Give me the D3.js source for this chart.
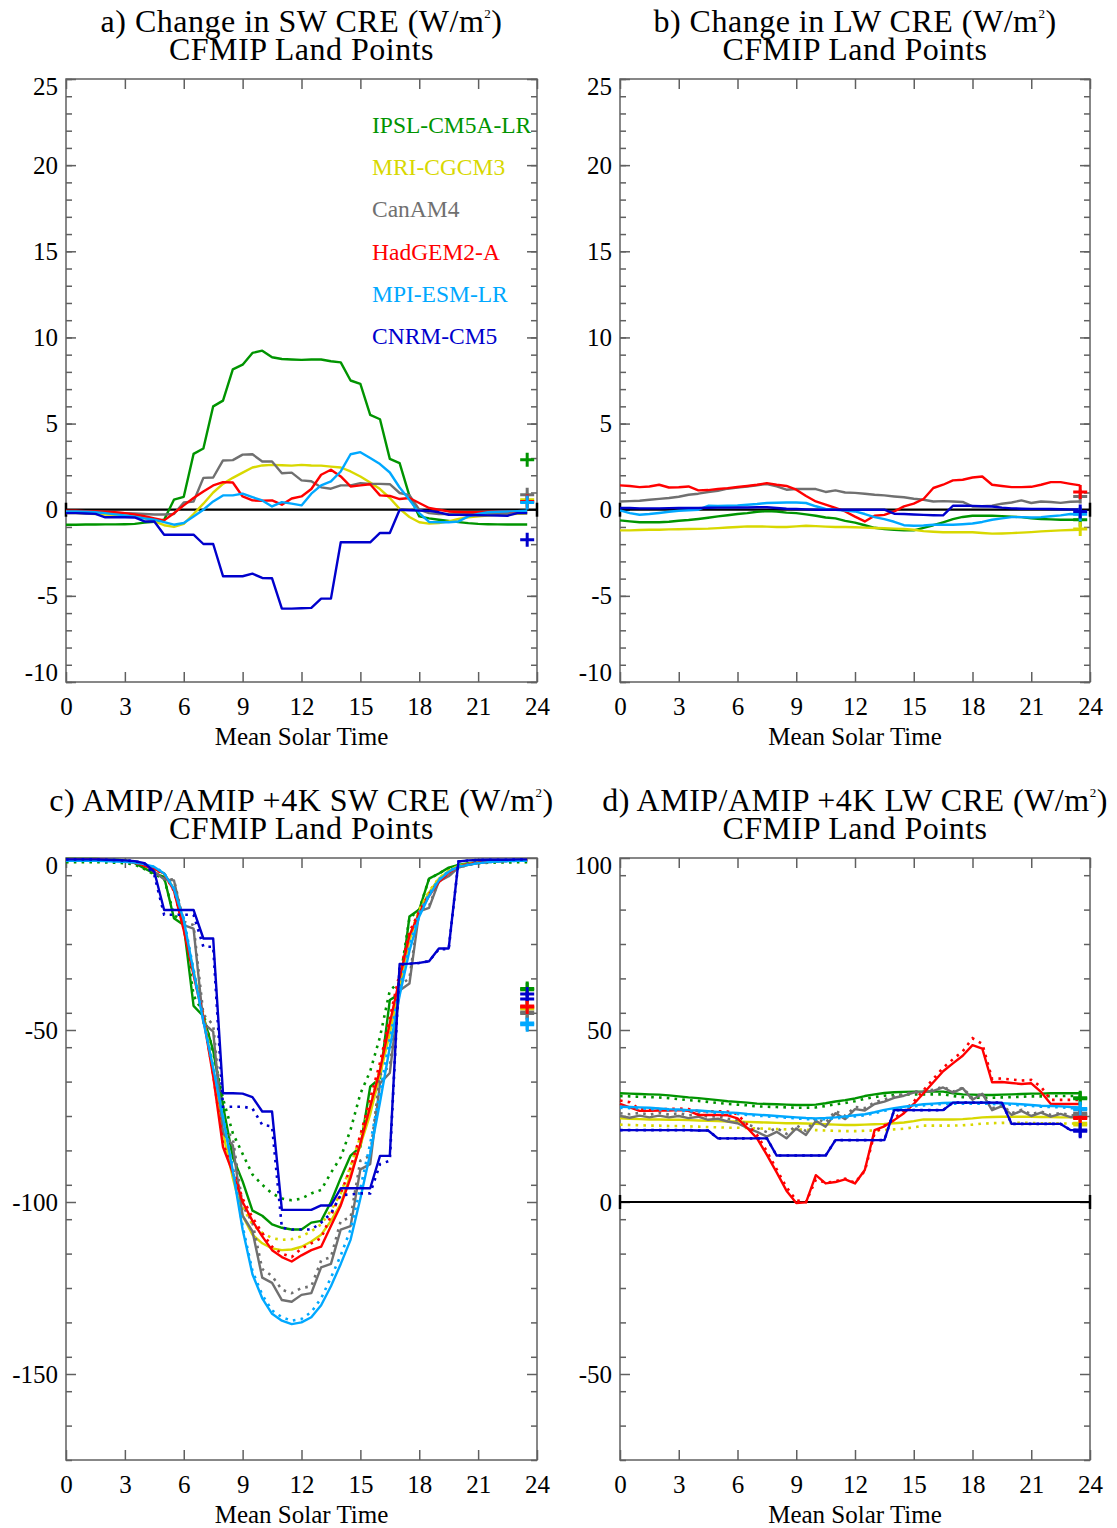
<!DOCTYPE html>
<html>
<head>
<meta charset="utf-8">
<script src="https://cdn.jsdelivr.net/npm/d3@7"></script>
<style>
  body { margin: 0; background: #fff; }
  text { font-family: "Liberation Serif", "Times New Roman", serif; }
</style>
</head>
<body>
<svg id="chart" width="1117" height="1528"></svg>
<script>
// ---- data ----
const hours = [0,0.5,1,1.5,2,2.5,3,3.5,4,4.5,5,5.5,6,6.5,7,7.5,8,8.5,9,9.5,10,10.5,11,11.5,
               12,12.5,13,13.5,14,14.5,15,15.5,16,16.5,17,17.5,18,18.5,19,19.5,20,20.5,21,21.5,22,22.5,23,23.5];
const models = ["IPSL-CM5A-LR", "MRI-CGCM3", "CanAM4", "HadGEM2-A", "MPI-ESM-LR", "CNRM-CM5"];
const xTicks = [0, 3, 6, 9, 12, 15, 18, 21, 24];

// a) change in SW CRE
const swIPSL = [-0.87,-0.87,-0.86,-0.86,-0.85,-0.85,-0.84,-0.82,-0.75,-0.7,-0.58,0.58,0.75,3.24,3.55,6.0,6.33,8.15,8.42,9.1,9.23,8.85,8.75,8.72,
                8.7,8.72,8.72,8.62,8.55,7.5,7.3,5.5,5.25,2.95,2.7,0.8,-0.39,-0.5,-0.58,-0.65,-0.72,-0.78,-0.82,-0.84,-0.85,-0.86,-0.86,-0.86];
const swMRI = [-0.2,-0.2,-0.22,-0.25,-0.28,-0.3,-0.33,-0.38,-0.5,-0.68,-0.9,-1.0,-0.82,-0.25,0.35,1.0,1.5,1.85,2.15,2.45,2.57,2.6,2.58,2.56,
               2.6,2.57,2.56,2.5,2.45,2.22,1.93,1.58,1.2,0.68,0.05,-0.42,-0.73,-0.81,-0.78,-0.68,-0.54,-0.44,-0.38,-0.34,-0.3,-0.27,-0.24,-0.22];
const swCanAM4 = [-0.1,-0.1,-0.12,-0.13,-0.15,-0.17,-0.2,-0.22,-0.25,-0.28,-0.28,-0.25,0.42,0.48,1.85,1.87,2.86,2.88,3.2,3.22,2.8,2.8,2.12,2.15,
                  1.7,1.65,1.3,1.22,1.41,1.41,1.54,1.5,1.5,1.48,0.97,0.85,0.0,-0.2,-0.25,-0.25,-0.25,-0.24,-0.23,-0.22,-0.22,-0.21,-0.2,-0.2];
const swHadGEM2 = [-0.05,-0.05,-0.08,-0.1,-0.12,-0.15,-0.2,-0.28,-0.38,-0.5,-0.62,-0.2,0.25,0.68,1.06,1.41,1.6,1.58,0.77,0.54,0.52,0.54,0.29,0.65,
                   0.77,1.2,2.03,2.32,1.93,1.35,1.41,1.48,0.83,0.8,0.62,0.68,0.39,0.1,0.0,-0.1,-0.13,-0.15,-0.15,-0.12,-0.1,-0.1,-0.1,-0.1];
const swMPI = [-0.1,-0.1,-0.12,-0.15,-0.2,-0.27,-0.33,-0.4,-0.5,-0.58,-0.72,-0.87,-0.77,-0.39,0.0,0.48,0.83,0.83,0.93,0.73,0.54,0.19,0.44,0.35,
               0.25,0.93,1.41,1.64,2.22,3.22,3.34,3.0,2.65,2.16,1.29,0.58,-0.2,-0.71,-0.73,-0.73,-0.68,-0.39,-0.25,-0.15,-0.12,-0.1,-0.08,-0.06];
const swCNRM = [-0.2,-0.2,-0.22,-0.24,-0.44,-0.44,-0.44,-0.45,-0.68,-0.68,-1.45,-1.45,-1.45,-1.45,-1.99,-1.99,-3.86,-3.86,-3.86,-3.71,-3.96,-3.98,-5.74,-5.74,
                -5.72,-5.7,-5.16,-5.16,-1.89,-1.89,-1.89,-1.89,-1.35,-1.35,0.0,-0.03,-0.05,-0.07,-0.15,-0.29,-0.3,-0.31,-0.32,-0.33,-0.34,-0.35,-0.2,-0.2];
const swMeans = [2.9, 0.58, 0.87, 0.48, 0.42, -1.74];

// b) change in LW CRE
const lwIPSL = [-0.62,-0.68,-0.73,-0.73,-0.73,-0.7,-0.64,-0.6,-0.54,-0.47,-0.39,-0.32,-0.25,-0.2,-0.12,-0.08,-0.1,-0.17,-0.2,-0.27,-0.35,-0.45,-0.5,-0.65,
                -0.75,-0.9,-1.05,-1.12,-1.17,-1.2,-1.2,-1.05,-0.9,-0.73,-0.55,-0.42,-0.35,-0.35,-0.35,-0.37,-0.4,-0.43,-0.5,-0.54,-0.56,-0.58,-0.58,-0.58];
const lwMRI = [-1.2,-1.2,-1.18,-1.16,-1.16,-1.14,-1.13,-1.12,-1.11,-1.1,-1.07,-1.03,-1.0,-0.97,-0.97,-0.98,-1.0,-1.0,-0.97,-0.93,-0.95,-0.98,-1.0,-1.0,
               -1.02,-1.04,-1.06,-1.08,-1.1,-1.12,-1.16,-1.24,-1.28,-1.31,-1.31,-1.31,-1.31,-1.35,-1.39,-1.38,-1.36,-1.33,-1.3,-1.26,-1.23,-1.2,-1.18,-1.16];
const lwCanAM4 = [0.48,0.5,0.52,0.58,0.63,0.68,0.75,0.87,0.93,1.03,1.1,1.22,1.28,1.35,1.42,1.49,1.35,1.16,1.2,1.2,1.2,1.03,1.12,1.0,
                  0.98,0.93,0.87,0.83,0.77,0.72,0.64,0.58,0.48,0.5,0.48,0.45,0.19,0.2,0.23,0.35,0.42,0.54,0.39,0.48,0.45,0.4,0.46,0.48];
const lwHadGEM2 = [1.41,1.38,1.31,1.35,1.45,1.29,1.3,1.35,1.12,1.14,1.2,1.25,1.32,1.38,1.45,1.54,1.45,1.38,1.16,0.8,0.48,0.3,0.1,-0.1,
                   -0.4,-0.68,-0.35,-0.3,-0.1,0.19,0.35,0.62,1.26,1.45,1.7,1.74,1.87,1.93,1.45,1.38,1.31,1.31,1.33,1.45,1.6,1.6,1.5,1.41];
const lwMPI = [-0.04,-0.2,-0.29,-0.25,-0.19,-0.12,-0.06,-0.03,0.0,0.23,0.22,0.23,0.25,0.29,0.33,0.39,0.4,0.42,0.42,0.39,0.2,0.05,0.0,-0.05,
               -0.1,-0.25,-0.43,-0.55,-0.7,-0.9,-0.93,-0.92,-0.87,-0.87,-0.87,-0.84,-0.8,-0.71,-0.58,-0.5,-0.43,-0.43,-0.45,-0.43,-0.38,-0.33,-0.25,-0.27];
const lwCNRM = [0.1,0.1,0.08,0.08,0.08,0.09,0.1,0.1,0.1,0.11,0.12,0.12,0.13,0.13,0.14,0.14,0.1,0.06,0.04,0.02,0.0,0.0,0.0,0.0,
                0.0,0.0,0.0,0.0,-0.23,-0.25,-0.28,-0.3,-0.32,-0.33,0.23,0.23,0.22,0.2,0.19,0.12,0.08,0.06,0.05,0.05,0.04,0.03,0.02,0.02];
const lwMeans = [-0.58, -1.12, 0.77, 1.03, -0.27, -0.1];

// c) AMIP (solid) / AMIP +4K (dotted) SW CRE
const amipSwIPSL = [-0.3,-0.3,-0.3,-0.3,-0.4,-0.5,-0.7,-1.5,-3.0,-4.5,-5.5,-17.5,-19.5,-43.0,-46.0,-56.0,-72.0,-87.0,-94.0,-102.5,-104.0,-106.5,-107.5,-108.0,
                    -108.0,-106.0,-105.5,-100.0,-93.0,-86.5,-84.0,-66.5,-64.0,-41.3,-39.5,-17.0,-15.0,-6.0,-4.5,-2.8,-2.0,-1.5,-1.2,-1.0,-0.8,-0.7,-0.6,-0.5];
const p4kSwIPSL = [-1.2,-1.2,-1.2,-1.2,-1.3,-1.4,-1.5,-1.9,-3.2,-4.8,-6.0,-16.5,-19.0,-40.0,-45.0,-56.5,-70.0,-80.0,-86.0,-92.0,-95.0,-97.5,-99.0,-99.5,
                   -99.0,-97.5,-96.5,-91.5,-87.0,-79.0,-68.5,-62.0,-52.0,-38.5,-36.0,-17.5,-15.0,-6.0,-4.5,-3.0,-2.2,-1.8,-1.5,-1.4,-1.3,-1.3,-1.2,-1.2];
const amipSwMRI = [-0.4,-0.4,-0.4,-0.4,-0.5,-0.6,-0.8,-1.2,-2.0,-3.0,-4.5,-9.0,-20.0,-33.0,-46.0,-62.0,-80.0,-93.0,-104.0,-109.5,-112.0,-113.5,-114.0,-113.8,
                   -113.0,-111.5,-109.5,-105.5,-100.5,-92.0,-83.5,-74.5,-63.0,-51.0,-37.0,-24.0,-15.5,-10.0,-6.0,-3.8,-2.3,-1.7,-1.3,-1.0,-0.8,-0.7,-0.6,-0.5];
const p4kSwMRI = [-0.5,-0.5,-0.5,-0.5,-0.6,-0.7,-0.9,-1.3,-2.1,-3.1,-4.6,-9.0,-19.5,-32.5,-45.5,-61.0,-78.5,-91.0,-101.5,-106.5,-109.0,-110.5,-111.0,-110.8,
                  -110.0,-108.5,-106.5,-102.5,-97.5,-89.5,-81.0,-72.0,-61.0,-49.0,-35.5,-23.0,-15.0,-9.7,-5.8,-3.7,-2.3,-1.7,-1.3,-1.0,-0.8,-0.7,-0.6,-0.6];
const amipSwCanAM4 = [-0.3,-0.3,-0.3,-0.3,-0.4,-0.5,-0.7,-1.0,-2.0,-4.0,-6.2,-6.5,-19.5,-20.5,-48.0,-50.5,-80.0,-83.5,-104.0,-108.5,-122.0,-123.5,-128.5,-129.0,
                      -127.0,-126.5,-119.0,-118.0,-108.0,-107.0,-90.5,-89.0,-65.5,-62.5,-38.5,-36.5,-15.5,-14.5,-6.8,-5.3,-2.8,-2.0,-1.5,-1.2,-1.0,-0.8,-0.7,-0.6];
const p4kSwCanAM4 = [-0.4,-0.4,-0.4,-0.4,-0.5,-0.6,-0.8,-1.1,-2.1,-4.0,-6.0,-6.3,-18.5,-19.5,-45.5,-48.5,-78.0,-81.5,-101.0,-106.0,-119.5,-121.5,-125.5,-126.5,
                     -125.0,-124.5,-117.0,-116.0,-105.5,-104.5,-88.0,-86.5,-63.0,-60.5,-37.0,-35.0,-15.0,-14.0,-6.5,-5.2,-2.8,-2.0,-1.5,-1.2,-1.0,-0.8,-0.7,-0.6];
const amipSwHadGEM2 = [-0.5,-0.5,-0.5,-0.5,-0.6,-0.7,-0.9,-1.3,-2.2,-3.2,-4.5,-9.5,-21.0,-34.0,-46.5,-63.5,-84.0,-91.5,-100.0,-105.5,-110.0,-114.0,-116.0,-117.3,
                       -115.5,-114.0,-113.0,-107.0,-101.0,-93.0,-83.0,-72.3,-61.6,-48.0,-35.0,-22.5,-16.0,-11.0,-7.0,-4.3,-2.5,-1.8,-1.4,-1.1,-0.9,-0.8,-0.7,-0.6];
const p4kSwHadGEM2 = [-0.6,-0.6,-0.6,-0.6,-0.7,-0.8,-1.0,-1.4,-2.3,-3.3,-4.6,-9.5,-20.5,-33.5,-46.0,-63.0,-83.0,-90.5,-99.0,-104.5,-109.0,-113.0,-115.0,-116.0,
                      -113.5,-112.0,-110.5,-104.0,-97.5,-90.0,-80.5,-70.0,-59.5,-46.5,-33.5,-21.5,-15.5,-10.5,-6.8,-4.2,-2.5,-1.8,-1.4,-1.1,-0.9,-0.8,-0.7,-0.7];
const amipSwMPI = [-0.8,-0.8,-0.8,-0.8,-0.9,-1.0,-1.1,-1.3,-1.8,-2.6,-4.5,-9.0,-18.0,-33.0,-47.5,-61.0,-75.5,-91.0,-108.0,-121.0,-128.0,-132.5,-134.5,-135.5,
                   -135.0,-133.5,-130.0,-124.5,-118.0,-111.0,-99.0,-86.0,-71.0,-55.0,-40.0,-27.0,-17.0,-11.0,-6.5,-4.0,-2.5,-2.0,-1.5,-1.2,-1.0,-0.9,-0.8,-0.8];
const p4kSwMPI = [-0.8,-0.8,-0.8,-0.8,-0.9,-1.0,-1.1,-1.3,-1.8,-2.6,-4.4,-8.8,-17.5,-32.5,-47.0,-60.5,-75.0,-90.0,-107.0,-120.0,-127.0,-131.5,-133.5,-134.5,
                  -134.0,-132.0,-128.0,-122.0,-115.5,-108.0,-96.0,-83.0,-68.0,-52.5,-38.0,-25.5,-16.0,-10.5,-6.2,-3.8,-2.4,-1.9,-1.5,-1.2,-1.0,-0.9,-0.8,-0.8];
const amipSwCNRM = [-0.4,-0.4,-0.4,-0.4,-0.5,-0.6,-0.7,-0.9,-1.5,-4.0,-15.1,-15.1,-15.1,-15.1,-23.4,-23.4,-68.4,-68.4,-68.5,-69.5,-73.7,-73.7,-102.3,-102.3,
                    -102.3,-102.3,-101.0,-101.0,-96.0,-96.0,-96.0,-96.0,-86.6,-86.6,-30.8,-30.7,-30.5,-30.0,-26.3,-26.3,-1.0,-0.7,-0.6,-0.5,-0.5,-0.5,-0.4,-0.4];
const p4kSwCNRM = [-0.4,-0.4,-0.4,-0.4,-0.5,-0.6,-0.7,-0.9,-1.6,-5.0,-16.5,-16.5,-16.5,-16.5,-25.8,-25.8,-72.3,-72.3,-72.3,-72.8,-77.6,-78.0,-107.5,-108.0,
                   -108.0,-108.0,-106.0,-103.3,-98.0,-97.8,-97.5,-97.5,-89.0,-88.0,-31.0,-30.8,-30.5,-30.0,-26.5,-26.5,-1.0,-0.7,-0.6,-0.5,-0.5,-0.5,-0.4,-0.4];
const amipSwMeans = [-37.9, -43.8, -45.2, -43.3, -48.5, -39.5];
const p4kSwMeans = [-38.3, -43.5, -44.8, -43.0, -48.0, -41.0];

// d) AMIP (solid) / AMIP +4K (dotted) LW CRE
const amipLwIPSL = [31.6,31.5,31.4,31.3,31.2,31.0,30.7,30.4,30.2,29.9,29.6,29.3,29.1,28.9,28.6,28.5,28.4,28.3,28.2,28.2,28.3,28.7,29.2,29.6,
                    30.1,30.8,31.3,31.7,31.9,32.0,32.1,32.1,32.1,32.1,31.6,31.3,31.2,31.1,31.1,31.2,31.3,31.4,31.5,31.5,31.6,31.6,31.6,31.6];
const p4kLwIPSL = [30.8,30.7,30.6,30.5,30.4,30.2,29.9,29.6,29.4,29.1,28.8,28.5,28.3,28.1,27.8,27.7,27.6,27.5,27.4,27.4,27.5,27.9,28.4,28.8,
                   29.3,30.0,30.5,30.9,31.1,31.2,31.3,31.3,31.3,31.3,30.8,30.5,30.4,30.3,30.3,30.4,30.5,30.6,30.7,30.7,30.8,30.8,30.8,30.8];
const amipLwMRI = [24.3,24.2,24.1,24.0,24.0,23.9,23.9,23.8,23.7,23.6,23.5,23.4,23.4,23.3,23.2,23.1,23.0,22.9,22.9,22.8,22.7,22.6,22.5,22.4,
                   22.4,22.5,22.6,22.7,22.9,23.1,23.5,24.0,24.0,24.0,24.0,24.1,24.3,24.6,24.7,24.8,24.8,24.8,24.8,24.7,24.7,24.6,24.6,24.6];
const p4kLwMRI = [22.5,22.4,22.3,22.2,22.2,22.1,22.1,22.0,21.9,21.8,21.7,21.6,21.6,21.5,21.4,21.3,21.2,21.1,21.1,21.0,20.9,20.8,20.7,20.6,
                  20.6,20.7,20.8,20.9,21.1,21.3,21.7,22.2,22.2,22.2,22.2,22.3,22.5,22.8,22.9,23.0,23.0,23.0,23.0,22.9,22.9,22.8,22.8,22.8];
const amipLwCanAM4 = [25.0,24.5,25.1,24.6,25.1,24.6,25.0,24.4,24.8,23.9,24.2,23.4,22.9,21.5,20.4,19.0,20.4,18.5,21.4,19.5,23.6,21.9,25.8,24.1,
                      27.0,26.6,28.5,29.2,30.3,30.9,31.8,32.0,32.3,33.3,31.8,33.1,29.7,31.5,26.7,27.9,25.3,26.5,25.0,26.0,24.8,25.6,24.7,24.6];
const p4kLwCanAM4 = [25.8,25.5,25.9,25.4,25.9,25.4,25.8,25.2,25.5,24.8,24.9,24.2,23.8,22.6,21.5,20.3,21.5,19.8,22.3,20.6,24.4,23.0,26.5,25.0,
                     27.6,27.3,29.0,29.8,30.7,31.3,32.1,32.3,32.6,33.5,32.1,33.2,30.2,31.6,27.2,28.2,25.8,26.8,25.5,26.3,25.3,25.9,25.2,25.1];
const amipLwHadGEM2 = [28.5,27.5,26.5,26.5,26.6,26.6,26.7,26.5,25.3,25.3,25.3,25.2,24.3,21.5,18.5,13.7,8.6,3.3,-0.3,-0.1,7.8,5.4,5.8,6.6,
                       5.4,9.3,20.9,22.0,23.8,25.8,28.5,31.6,34.8,38.0,40.3,42.5,45.6,44.6,34.8,34.9,34.6,34.3,34.5,32.0,28.5,28.5,28.5,28.5];
const p4kLwHadGEM2 = [29.5,29.0,27.0,27.0,27.0,27.0,27.2,27.0,26.4,26.4,26.4,26.3,25.5,22.5,19.5,14.7,9.5,4.3,0.5,0.0,6.5,5.6,6.0,6.8,
                      5.6,9.0,20.0,22.2,24.3,26.5,29.2,32.5,35.8,39.0,41.5,43.8,47.6,46.0,35.8,35.9,35.6,35.3,35.5,33.5,29.7,29.7,29.7,29.7];
const amipLwMPI = [27.7,27.6,27.5,27.4,27.2,27.0,26.9,26.7,26.6,26.4,26.2,26.0,25.9,25.6,25.4,25.2,25.0,24.8,24.6,24.4,24.3,24.4,24.6,24.9,
                   25.2,25.5,26.1,26.8,27.3,27.7,28.1,28.4,28.6,28.8,28.9,28.9,28.9,28.9,28.8,28.7,28.6,28.4,28.2,28.0,27.9,27.8,27.6,27.5];
const p4kLwMPI = [27.4,27.3,27.2,27.1,26.9,26.7,26.6,26.4,26.3,26.1,25.9,25.7,25.6,25.3,25.1,24.9,24.7,24.5,24.3,24.1,24.0,24.1,24.3,24.6,
                  24.9,25.2,25.8,26.5,27.0,27.4,27.8,28.1,28.3,28.5,28.6,28.6,28.6,28.6,28.5,28.4,28.3,28.1,27.9,27.7,27.6,27.5,27.3,27.2];
const amipLwCNRM = [20.9,20.9,20.9,20.9,20.9,20.9,20.9,20.9,20.8,20.8,18.5,18.5,18.5,18.5,18.5,18.5,13.5,13.5,13.5,13.5,13.5,13.5,18.0,18.0,
                    18.0,18.0,18.0,18.0,26.7,26.7,26.7,26.7,26.7,26.7,28.9,28.9,28.9,28.9,28.9,28.9,22.7,22.7,22.7,22.7,22.7,22.7,20.9,20.9];
const p4kLwCNRM = [20.9,20.9,20.9,20.9,20.9,20.9,20.9,20.9,20.8,20.8,18.5,18.5,18.5,18.5,18.5,18.5,13.5,13.5,13.5,13.5,13.5,13.5,18.0,18.0,
                   18.0,18.0,18.0,18.0,26.7,26.7,26.7,26.7,26.7,26.7,28.9,28.9,28.9,28.9,28.9,28.9,22.7,22.7,22.7,22.7,22.7,22.7,20.9,20.9];
const amipLwMeans = [30.3, 22.9, 25.8, 24.6, 27.2, 20.9];
const p4kLwMeans = [30.0, 22.4, 25.3, 24.3, 26.8, 20.6];

// ---- styling ----
const colors = {
  "IPSL-CM5A-LR": "#009400",
  "MRI-CGCM3": "#d8d800",
  "CanAM4": "#707070",
  "HadGEM2-A": "#ff0000",
  "MPI-ESM-LR": "#00a8ff",
  "CNRM-CM5": "#0000cc"
};
const frameColor = "#606060";

const svg = d3.select("#chart");
svg.append("rect").attr("width", 1117).attr("height", 1528).attr("fill", "#fff");

const panels = [
  { left: 66, right: 537, top: 79, bottom: 682, yDomain: [-10, 25], labels: [-10, -5, 0, 5, 10, 15, 20, 25], minorStep: 1,
    title: "a) Change in SW CRE (W/m", zero: true, legend: true,
    solid: [swIPSL, swMRI, swCanAM4, swHadGEM2, swMPI, swCNRM], dotted: null, means: [swMeans] },
  { left: 620, right: 1090, top: 79, bottom: 682, yDomain: [-10, 25], labels: [-10, -5, 0, 5, 10, 15, 20, 25], minorStep: 1,
    title: "b) Change in LW CRE (W/m", zero: true,
    solid: [lwIPSL, lwMRI, lwCanAM4, lwHadGEM2, lwMPI, lwCNRM], dotted: null, means: [lwMeans] },
  { left: 66, right: 537, top: 858, bottom: 1460, yDomain: [-175, 0], labels: [-150, -100, -50, 0], minorStep: 10,
    title: "c) AMIP/AMIP +4K SW CRE (W/m", zero: false,
    solid: [amipSwIPSL, amipSwMRI, amipSwCanAM4, amipSwHadGEM2, amipSwMPI, amipSwCNRM],
    dotted: [p4kSwIPSL, p4kSwMRI, p4kSwCanAM4, p4kSwHadGEM2, p4kSwMPI, p4kSwCNRM], means: [p4kSwMeans, amipSwMeans] },
  { left: 620, right: 1090, top: 858, bottom: 1460, yDomain: [-75, 100], labels: [-50, 0, 50, 100], minorStep: 10,
    title: "d) AMIP/AMIP +4K LW CRE (W/m", zero: true,
    solid: [amipLwIPSL, amipLwMRI, amipLwCanAM4, amipLwHadGEM2, amipLwMPI, amipLwCNRM],
    dotted: [p4kLwIPSL, p4kLwMRI, p4kLwCanAM4, p4kLwHadGEM2, p4kLwMPI, p4kLwCNRM], means: [p4kLwMeans, amipLwMeans] }
];

// plain hyphen minus, like the original plot
const plainFormat = function(d) { return String(d); };

function styleAxis(g) {
  g.select(".domain").remove();
  g.attr("color", frameColor)
    .attr("font-family", "Liberation Serif, Times New Roman, serif")
    .attr("font-size", 25);
  g.selectAll(".tick line").attr("stroke-width", 1.5);
  g.selectAll(".tick text").attr("fill", "#000");
}

function drawPanel(p) {
  const x = d3.scaleLinear().domain([0, 24]).range([p.left, p.right]);
  const y = d3.scaleLinear().domain(p.yDomain).range([p.bottom, p.top]);
  const g = svg.append("g");
  const cx = (p.left + p.right) / 2;

  // titles
  const t1 = g.append("text").attr("x", cx).attr("y", p.top - 47)
    .attr("text-anchor", "middle").attr("font-size", 32).attr("letter-spacing", 0.5);
  t1.append("tspan").text(p.title);
  t1.append("tspan").attr("font-size", 13).attr("dy", -14).text("2");
  t1.append("tspan").attr("dy", 14).text(")");
  g.append("text").attr("x", cx).attr("y", p.top - 19)
    .attr("text-anchor", "middle").attr("font-size", 32).attr("letter-spacing", 0.5)
    .text("CFMIP Land Points");

  // minor y ticks (both sides)
  const minor = d3.range(p.yDomain[0], p.yDomain[1] + 0.001, p.minorStep);
  g.append("g").attr("transform", "translate(" + p.left + ",0)")
    .call(d3.axisLeft(y).tickValues(minor).tickSize(-6).tickFormat("")).call(styleAxis);
  g.append("g").attr("transform", "translate(" + p.right + ",0)")
    .call(d3.axisRight(y).tickValues(minor).tickSize(-6).tickFormat("")).call(styleAxis);

  // major y ticks with labels
  const yl = g.append("g").attr("transform", "translate(" + p.left + ",0)")
    .call(d3.axisLeft(y).tickValues(p.labels).tickSize(-10).tickPadding(8).tickFormat(plainFormat))
    .call(styleAxis);
  yl.selectAll(".tick text").attr("dy", function(d) {
    if (d === p.yDomain[1]) return "0.6em";
    if (d === p.yDomain[0]) return "-0.05em";
    return "0.32em";
  });
  g.append("g").attr("transform", "translate(" + p.right + ",0)")
    .call(d3.axisRight(y).tickValues(p.labels).tickSize(-10).tickFormat("")).call(styleAxis);

  // x ticks
  g.append("g").attr("transform", "translate(0," + p.bottom + ")")
    .call(d3.axisBottom(x).tickValues(xTicks).tickSize(-10).tickPadding(15).tickFormat(plainFormat))
    .call(styleAxis)
    .selectAll(".tick text").attr("dy", "0.71em");
  g.append("g").attr("transform", "translate(0," + p.top + ")")
    .call(d3.axisTop(x).tickValues(xTicks).tickSize(-10).tickFormat("")).call(styleAxis);

  g.append("text").attr("x", cx).attr("y", p.bottom + 63)
    .attr("text-anchor", "middle").attr("font-size", 25).text("Mean Solar Time");

  // frame
  g.append("rect").attr("x", p.left).attr("y", p.top)
    .attr("width", p.right - p.left).attr("height", p.bottom - p.top)
    .attr("fill", "none").attr("stroke", frameColor).attr("stroke-width", 1.5);

  // zero line with end bars
  if (p.zero) {
    g.append("line").attr("x1", x(0)).attr("x2", x(24)).attr("y1", y(0)).attr("y2", y(0))
      .attr("stroke", "#000").attr("stroke-width", 2.2);
    [0, 24].forEach(function(h) {
      g.append("line").attr("x1", x(h)).attr("x2", x(h)).attr("y1", y(0) - 7).attr("y2", y(0) + 7)
        .attr("stroke", "#000").attr("stroke-width", 2.5);
    });
  }

  const line = d3.line()
    .x(function(d, i) { return x(hours[i]); })
    .y(function(d) { return y(d); });

  models.forEach(function(m, k) {
    if (p.dotted) {
      g.append("path").datum(p.dotted[k]).attr("d", line)
        .attr("fill", "none").attr("stroke", colors[m]).attr("stroke-width", 2.6)
        .attr("stroke-dasharray", "2.6,5.2");
    }
    g.append("path").datum(p.solid[k]).attr("d", line)
      .attr("fill", "none").attr("stroke", colors[m]).attr("stroke-width", 2.4)
      .attr("stroke-linejoin", "round");
  });

  // daily-mean markers at the right end
  p.means.forEach(function(arr) {
    models.forEach(function(m, k) {
      const mx = x(hours[hours.length - 1]), my = y(arr[k]);
      g.append("path").attr("d", "M" + (mx - 7) + "," + my + "H" + (mx + 7) + "M" + mx + "," + (my - 7) + "V" + (my + 7))
        .attr("stroke", colors[m]).attr("stroke-width", 3).attr("fill", "none");
    });
  });

  if (p.legend) {
    models.forEach(function(m, k) {
      g.append("text").attr("x", 372).attr("y", 133 + k * 42.2)
        .attr("font-size", 23.5).attr("fill", colors[m]).text(m);
    });
  }
}

panels.forEach(drawPanel);
</script>
</body>
</html>
